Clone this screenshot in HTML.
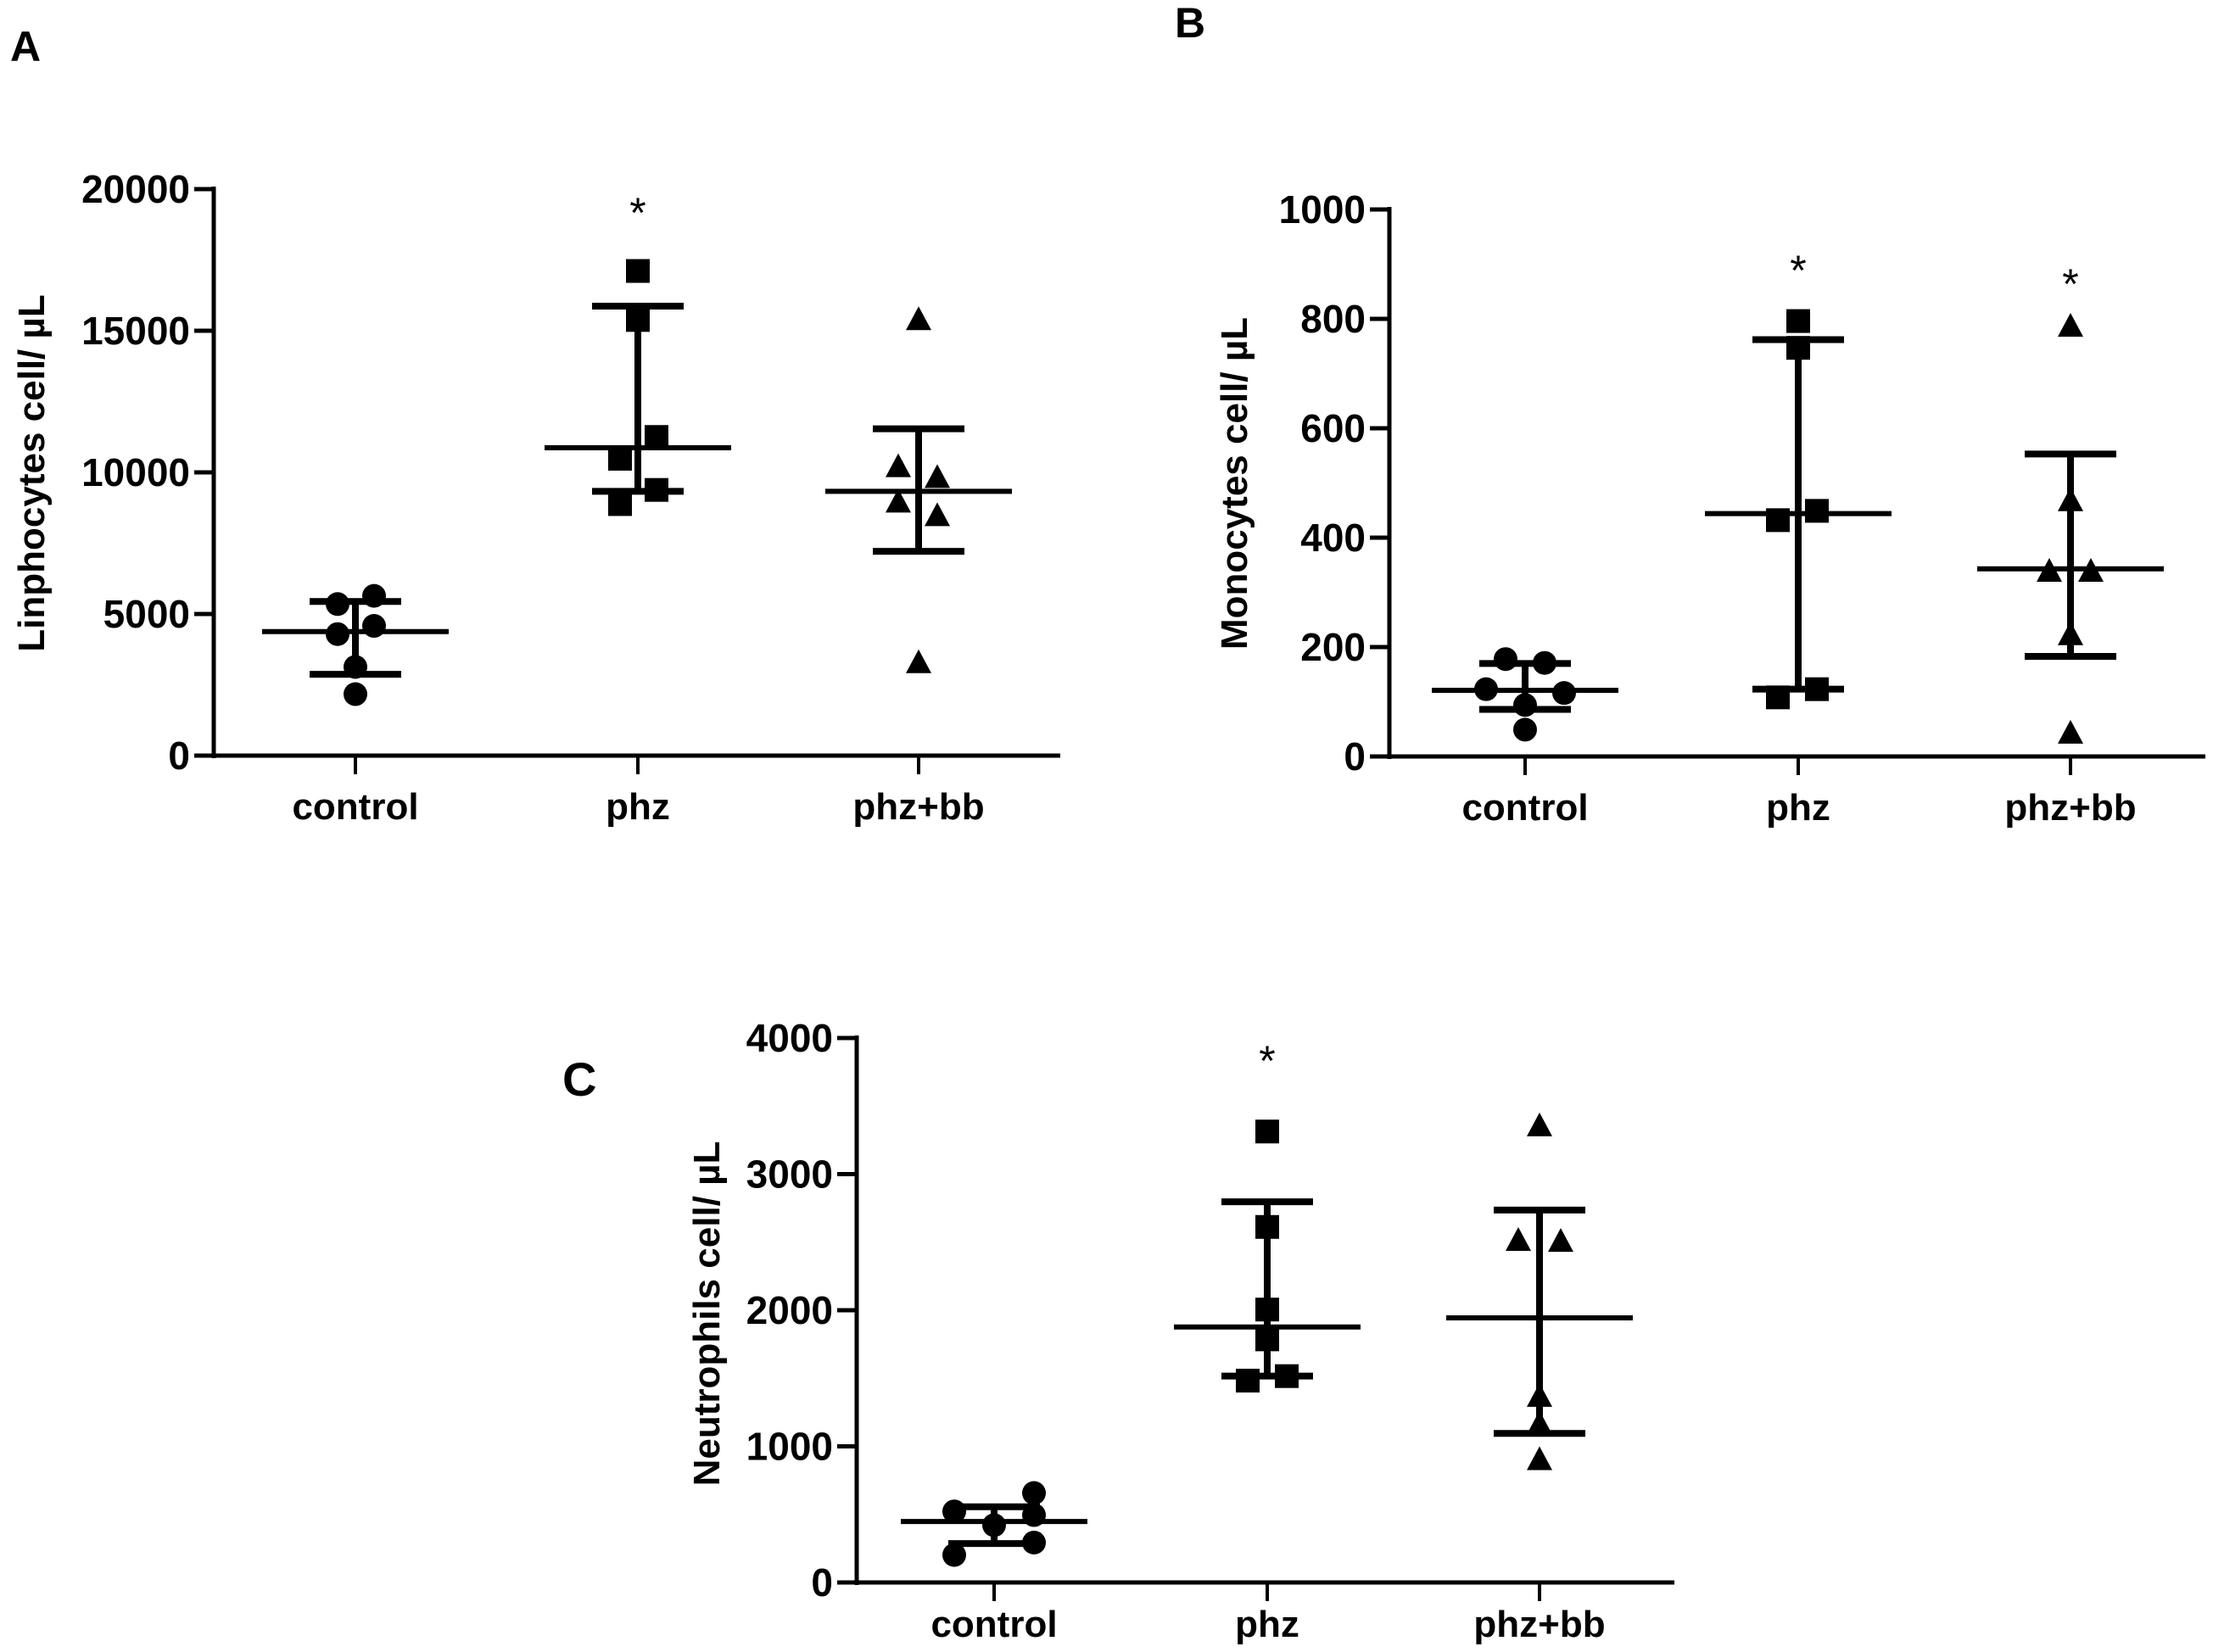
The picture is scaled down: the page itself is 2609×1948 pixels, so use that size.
<!DOCTYPE html>
<html><head><meta charset="utf-8"><style>
html,body{margin:0;padding:0;background:#fff;}
svg{display:block;font-family:"Liberation Sans",Arial,sans-serif;}
</style></head><body>
<svg id="fig" width="2609" height="1948" viewBox="0 0 2609 1948" xmlns="http://www.w3.org/2000/svg">
<rect width="2609" height="1948" fill="#fff"/>
<text x="12" y="72" font-size="50" font-weight="bold">A</text>
<text x="1385" y="44" font-size="50" font-weight="bold">B</text>
<text x="663" y="1292" font-size="56" font-weight="bold">C</text>
</svg>
<script>
const categories = ["control","phz","phz+bb"];
// Panel A: Linphocytes
const aTicks = [0,5000,10000,15000,20000];
const aControl = [5350,5640,4290,4580,3130,2170];
const aPhz = [17110,15380,11250,10480,9380,8880];
const aPhzbb = [15380,10190,9810,8940,8460,3270];
const aMean = [4380,10870,9330];
const aErrHi = [5440,15870,11540];
const aErrLo = [2870,9330,7210];
const aStars = [false,true,false];
// Panel B: Monocytes
const bTicks = [0,200,400,600,800,1000];
const bControl = [178,171,123,116,94,49];
const bPhz = [796,747,432,449,108,123];
const bPhzbb = [786,467,338,338,222,42];
const bMean = [121,444,343];
const bErrHi = [170,762,553];
const bErrLo = [86,123,183];
const bStars = [false,true,true];
// Panel C: Neutrophils
const cTicks = [0,1000,2000,3000,4000];
const cControl = [522,657,495,421,293,202];
const cPhz = [3313,2612,2005,1786,1483,1516];
const cPhzbb = [3353,2511,2504,1365,1163,900];
const cMean = [448,1877,1944];
const cErrHi = [556,2797,2736];
const cErrLo = [286,1516,1095];
const cStars = [false,true,false];

const NS="http://www.w3.org/2000/svg";
const fig=document.getElementById('fig');
function mk(tag,attrs,parent){const e=document.createElementNS(NS,tag);for(const k in attrs)e.setAttribute(k,attrs[k]);(parent||fig).appendChild(e);return e;}

function panel(cfg){
  const g=mk('g',{});
  
  
  const ymax=cfg.ticks[cfg.ticks.length-1];
  const Y=v=>cfg.y0-(v/ymax)*(cfg.y0-cfg.yTop);
  const X=i=>cfg.cx[i];
  const ya=mk('line',{x1:cfg.ax,y1:cfg.yTop-3,x2:cfg.ax,y2:cfg.y0+3,stroke:'#000','stroke-width':5},g);
  
  
  const xa=mk('line',{x1:cfg.ax-23,y1:cfg.y0,x2:cfg.xEnd,y2:cfg.y0,stroke:'#000','stroke-width':5},g);
  
  
  cfg.ticks.forEach(t=>{
    mk('line',{x1:cfg.ax-23,y1:Y(t),x2:cfg.ax,y2:Y(t),stroke:'#000','stroke-width':5},g);
    const tx=mk('text',{x:cfg.ax-28,y:Y(t)+16,'font-size':46,'font-weight':'bold','text-anchor':'end'},g);
    tx.textContent=t;
    
    
  });
  categories.forEach((c,i)=>{
    mk('line',{x1:X(i),y1:cfg.y0,x2:X(i),y2:cfg.y0+22,stroke:'#000','stroke-width':4},g);
    const tx=mk('text',{x:X(i),y:cfg.y0+cfg.labOff,'font-size':44,'font-weight':'bold','text-anchor':'middle'},g);
    tx.textContent=c;
    
    
  });
  const tt=mk('text',{x:0,y:0,'font-size':44,'font-weight':'bold','text-anchor':'middle',transform:`translate(${cfg.titleX},${cfg.titleY}) rotate(-90)`},g);
  tt.textContent=cfg.title;
  
  
  categories.forEach((c,i)=>{
    const x=X(i);
    mk('line',{x1:x,y1:Y(cfg.hi[i]),x2:x,y2:Y(cfg.lo[i]),stroke:'#000','stroke-width':8},g);
    mk('line',{x1:x-54,y1:Y(cfg.hi[i]),x2:x+54,y2:Y(cfg.hi[i]),stroke:'#000','stroke-width':8},g);
    mk('line',{x1:x-54,y1:Y(cfg.lo[i]),x2:x+54,y2:Y(cfg.lo[i]),stroke:'#000','stroke-width':8},g);
    const m=mk('line',{x1:x-110,y1:Y(cfg.mean[i]),x2:x+110,y2:Y(cfg.mean[i]),stroke:'#000','stroke-width':6},g);
    
    
    if(cfg.stars[i]){
      const s=mk('text',{x:x,y:cfg.starY[i]+6,'font-size':50,'text-anchor':'middle'},g);
      s.textContent='*';
      
      
    }
  });
  const series=[cfg.s0,cfg.s1,cfg.s2];
  series.forEach((arr,i)=>{
    arr.forEach((v,k)=>{
      const x=X(i)+cfg.jit[i][k];
      const y=Y(v);
      let p;
      if(i===0)p=mk('circle',{cx:x,cy:y,r:14,fill:'#000'},g);
      else if(i===1)p=mk('rect',{x:x-14,y:y-14,width:28,height:28,fill:'#000'},g);
      else p=mk('polygon',{points:`${x},${y-16} ${x+15},${y+12} ${x-15},${y+12}`,fill:'#000'},g);
      
      
    });
  });
}

panel({id:'a',ticks:aTicks,s0:aControl,s1:aPhz,s2:aPhzbb,mean:aMean,hi:aErrHi,lo:aErrLo,stars:aStars,
  ax:252,yTop:223,y0:891,xEnd:1250,cx:[419,752,1083],title:'Linphocytes cell/ µL',titleX:52,titleY:558,
  starY:[0,262,0],labOff:75,
  jit:[[-21,22,-21,22,0,0],[0,0,22,-21,22,-21],[0,-24,22,-24,22,0]]});
panel({id:'b',ticks:bTicks,s0:bControl,s1:bPhz,s2:bPhzbb,mean:bMean,hi:bErrHi,lo:bErrLo,stars:bStars,
  ax:1638,yTop:247,y0:892,xEnd:2600,cx:[1798,2120,2441],title:'Monocytes cell/ µL',titleX:1470,titleY:570,
  starY:[0,330,346],labOff:75,
  jit:[[-23,23,-46,46,0,0],[0,0,-24,22,-24,22],[0,0,-25,24,0,0]]});
panel({id:'c',ticks:cTicks,s0:cControl,s1:cPhz,s2:cPhzbb,mean:cMean,hi:cErrHi,lo:cErrLo,stars:cStars,
  ax:1010,yTop:1224,y0:1866,xEnd:1974,cx:[1172,1494,1815],title:'Neutrophils cell/ µL',titleX:848,titleY:1549,
  starY:[0,1262,0],labOff:64,
  jit:[[-47,47,47,0,47,-47],[0,0,0,0,-23,23],[0,-25,25,0,0,0]]});
</script>
</body></html>
